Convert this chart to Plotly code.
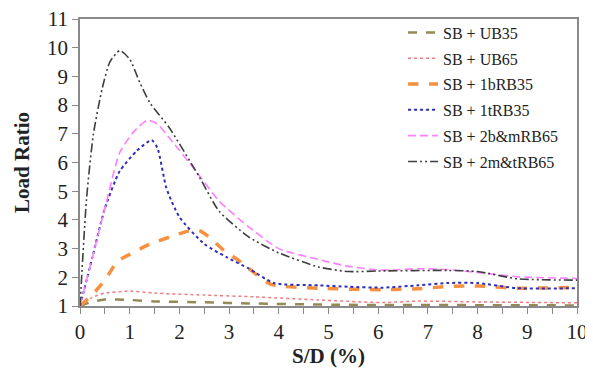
import plotly.graph_objects as go

# Data
names = ["SB + UB35", "SB + UB65", "SB + 1bRB35", "SB + 1tRB35", "SB + 2b&mRB65", "SB + 2m&tRB65"]

x_ub35 = [0, 0.25, 0.5, 1.0, 1.5, 2.5, 3.4, 5.4, 8.1, 10]
y_ub35 = [1, 1.15, 1.23, 1.21, 1.16, 1.13, 1.09, 1.04, 1.03, 1.02]

x_ub65 = [0, 0.25, 0.5, 1.0, 1.5, 2.5, 3.5, 4.8, 6.1, 6.8, 8.1, 10]
y_ub65 = [1, 1.3, 1.45, 1.52, 1.45, 1.38, 1.32, 1.21, 1.12, 1.17, 1.14, 1.11]

x_1b = [0, 0.25, 0.5, 0.75, 1.0, 1.4, 1.8, 2.2, 2.4, 2.6, 2.9, 3.15, 3.4, 3.85, 4.8, 6.1, 6.8, 7.4, 8.0, 8.8, 10]
y_1b = [1, 1.4, 1.9, 2.55, 2.8, 3.15, 3.4, 3.62, 3.63, 3.4, 2.93, 2.64, 2.3, 1.75, 1.62, 1.57, 1.6, 1.68, 1.7, 1.62, 1.65]

x_1t = [0, 0.25, 0.5, 0.8, 1.14, 1.44, 1.56, 1.74, 2.0, 2.5, 2.95, 3.4, 3.9, 4.8, 5.4, 6.1, 6.8, 7.4, 8.0, 8.8, 10]
y_1t = [1, 2.7, 4.4, 5.7, 6.4, 6.78, 6.5, 5.1, 4.1, 3.16, 2.7, 2.3, 1.8, 1.72, 1.67, 1.64, 1.72, 1.8, 1.8, 1.62, 1.62]

x_2bm = [0, 0.25, 0.5, 0.8, 1.07, 1.35, 1.55, 1.8, 2.4, 2.8, 3.4, 4.0, 4.8, 5.4, 6.1, 6.8, 7.4, 8.1, 8.8, 10]
y_2bm = [1, 2.7, 4.4, 6.35, 7.05, 7.47, 7.35, 6.85, 5.55, 4.65, 3.75, 3.0, 2.62, 2.38, 2.25, 2.3, 2.27, 2.15, 2.02, 1.96]

x_2mt = [0, 0.13, 0.27, 0.45, 0.6, 0.8, 1.0, 1.2, 1.4, 1.8, 2.4, 2.8, 3.4, 4.0, 4.8, 5.4, 6.0, 7.4, 8.0, 8.8, 10]
y_2mt = [1, 4.7, 7.0, 8.6, 9.5, 9.9, 9.6, 8.8, 8.1, 7.2, 5.5, 4.3, 3.4, 2.85, 2.36, 2.2, 2.22, 2.24, 2.2, 1.95, 1.9]

series = [
    (x_ub35, y_ub35, dict(color="#938A55", width=2.5, dash="dash")),
    (x_ub65, y_ub65, dict(color="#EC7C80", width=1.5, dash="dot")),
    (x_1b, y_1b, dict(color="#F7903F", width=3.5, dash="dash")),
    (x_1t, y_1t, dict(color="#2E2EB8", width=2, dash="dot")),
    (x_2bm, y_2bm, dict(color="#FF7FFF", width=1.6, dash="8px,4px")),
    (x_2mt, y_2mt, dict(color="#3F3F3F", width=1.6, dash="9px,3px,2px,3px,2px,3px")),
]

fig = go.Figure()
for i, ((xs, ys, ln), nm) in enumerate(zip(series, names)):
    fig.add_trace(go.Scatter(x=xs, y=ys, name=nm, mode="lines", legendgroup=f"g{i}",
                             line=dict(shape="spline", smoothing=0.6, **ln)))

FAM = "Liberation Serif, Times New Roman, serif"
axis_font = dict(family=FAM, size=21, color="#222")
title_font = dict(family=FAM, size=21, color="#222")
# page body has an 8px margin, so the figure is sized to fill the rest of the 593x380 window
fig.update_layout(
    width=585, height=372,
    margin=dict(l=72, r=16, t=8, b=74),
    plot_bgcolor="white", paper_bgcolor="white",
    font=dict(family=FAM, color="#222"),
    legend=dict(x=0.65, y=1.012, xanchor="left", yanchor="top",
                font=dict(family=FAM, size=16, color="#222"),
                bgcolor="rgba(0,0,0,0)", tracegroupgap=2),
    xaxis=dict(range=[0, 10], dtick=1, tick0=0, showgrid=False, zeroline=False, automargin=False,
               showline=True, linecolor="#8a8a8a", linewidth=1.5, mirror=True,
               ticks="outside", ticklen=6, tickcolor="#8a8a8a",
               minor=dict(ticks="outside", dtick=0.5, ticklen=6, tickcolor="#8a8a8a"),
               tickfont=axis_font, ticklabeloverflow="allow",
               title=dict(text="<b>S/D (%)</b>", font=title_font, standoff=2)),
    yaxis=dict(range=[1, 11], dtick=1, tick0=1, showgrid=False, zeroline=False, automargin=False,
               showline=True, linecolor="#8a8a8a", linewidth=1.5, mirror=True,
               ticks="outside", ticklen=6, tickcolor="#8a8a8a",
               tickfont=axis_font, ticklabeloverflow="allow",
               title=dict(text="<b>Load Ratio</b>", font=title_font, standoff=12)),
)

fig.write_html("out.html")
